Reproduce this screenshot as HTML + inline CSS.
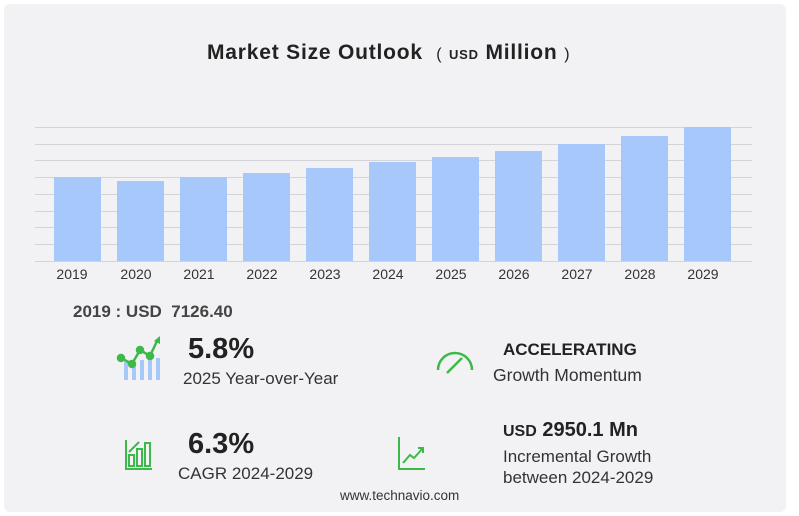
<!DOCTYPE html>
<html><head><style>
body{margin:0;width:799px;height:516px;background:#fff;font-family:"Liberation Sans",sans-serif;overflow:hidden}
.bg{position:absolute;left:4px;top:4px;width:782px;height:508px;background:#f2f2f4;border-radius:6px}
.t{position:absolute;white-space:nowrap;color:#222}
</style></head><body>
<div class="bg"></div>
<svg width="799" height="516" style="position:absolute;left:0;top:0">
<g stroke="#d4d4d8" stroke-width="1">
<line x1="35" x2="752" y1="127.5" y2="127.5"/><line x1="35" x2="752" y1="144.5" y2="144.5"/>
<line x1="35" x2="752" y1="160.5" y2="160.5"/><line x1="35" x2="752" y1="177.5" y2="177.5"/>
<line x1="35" x2="752" y1="194.5" y2="194.5"/><line x1="35" x2="752" y1="211.5" y2="211.5"/>
<line x1="35" x2="752" y1="227.5" y2="227.5"/><line x1="35" x2="752" y1="244.5" y2="244.5"/>
<line x1="35" x2="752" y1="261.5" y2="261.5"/>
</g>
<g fill="#a6c8fb">
<rect x="54" y="177" width="47" height="84"/><rect x="117" y="181" width="47" height="80"/>
<rect x="180" y="177" width="47" height="84"/><rect x="243" y="173" width="47" height="88"/>
<rect x="306" y="168" width="47" height="93"/><rect x="369" y="162" width="47" height="99"/>
<rect x="432" y="157" width="47" height="104"/><rect x="495" y="151" width="47" height="110"/>
<rect x="558" y="144" width="47" height="117"/><rect x="621" y="136" width="47" height="125"/>
<rect x="684" y="127" width="47" height="134"/>
</g>
<g font-family="Liberation Sans" font-size="14" fill="#333" text-anchor="middle">
<text x="72" y="279">2019</text><text x="136" y="279">2020</text><text x="199" y="279">2021</text>
<text x="262" y="279">2022</text><text x="325" y="279">2023</text><text x="388" y="279">2024</text>
<text x="451" y="279">2025</text><text x="514" y="279">2026</text><text x="577" y="279">2027</text>
<text x="640" y="279">2028</text><text x="703" y="279">2029</text>
</g>
<g fill="#a6c8fb"><rect x="124" y="362" width="4" height="18"/><rect x="132" y="366" width="4" height="14"/><rect x="140" y="360" width="4" height="20"/><rect x="148" y="356" width="4" height="24"/><rect x="156" y="358" width="4" height="22"/></g>
<g stroke="#3cb94a" stroke-width="2.5" fill="#3cb94a"><polyline points="121,358 132,364 140,350 150,356 157,341" fill="none"/><circle cx="121" cy="358" r="3"/><circle cx="132" cy="364" r="3"/><circle cx="140" cy="350" r="3"/><circle cx="150" cy="356" r="3"/></g>
<polygon points="154,341 160,336 160,344" fill="#3cb94a"/>
<g stroke="#3cb94a" stroke-width="2.5" fill="none"><path d="M438,370 A17,17 0 0 1 472,370"/><line x1="447" y1="373" x2="462" y2="358"/></g>
<g stroke="#3cb94a" stroke-width="2" fill="none"><polyline points="126,440 126,469 152,469"/><rect x="129" y="455" width="5" height="11"/><rect x="137" y="449" width="5" height="17"/><rect x="145" y="443" width="5" height="23"/><line x1="129" y1="452" x2="139" y2="442"/></g>
<g stroke="#3cb94a" stroke-width="2" fill="none"><polyline points="399,437 399,469 425,469"/><polyline points="403,463 410,455 414,458 423,448"/><polyline points="418,448 423,448 423,453"/></g>
</svg>
<div class="t" style="left:207px;top:41px;font-size:21px;font-weight:bold;letter-spacing:0.8px">Market Size Outlook &nbsp;<span style="font-weight:normal;font-size:16px">(</span> <span style="font-size:13px">USD</span> Million <span style="font-weight:normal;font-size:16px">)</span></div>
<div class="t" style="left:73px;top:302px;font-size:17px;font-weight:bold;color:#444">2019 : USD&nbsp; 7126.40</div>
<div class="t" style="left:188px;top:333px;font-size:29px;font-weight:bold">5.8%</div>
<div class="t" style="left:183px;top:369px;font-size:17px;color:#333">2025 Year-over-Year</div>
<div class="t" style="left:503px;top:340px;font-size:17px;font-weight:bold">ACCELERATING</div>
<div class="t" style="left:493px;top:365px;font-size:17.5px;color:#333">Growth Momentum</div>
<div class="t" style="left:188px;top:428px;font-size:29px;font-weight:bold">6.3%</div>
<div class="t" style="left:178px;top:464px;font-size:17px;color:#333">CAGR 2024-2029</div>
<div class="t" style="left:503px;top:419px;font-size:20px;font-weight:bold"><span style="font-size:16px">USD</span> 2950.1 Mn</div>
<div class="t" style="left:503px;top:447px;font-size:17px;color:#333">Incremental Growth</div>
<div class="t" style="left:503px;top:468px;font-size:17px;color:#333">between 2024-2029</div>
<div class="t" style="left:340px;top:488px;font-size:13.5px;color:#333">www.technavio.com</div>
</body></html>
